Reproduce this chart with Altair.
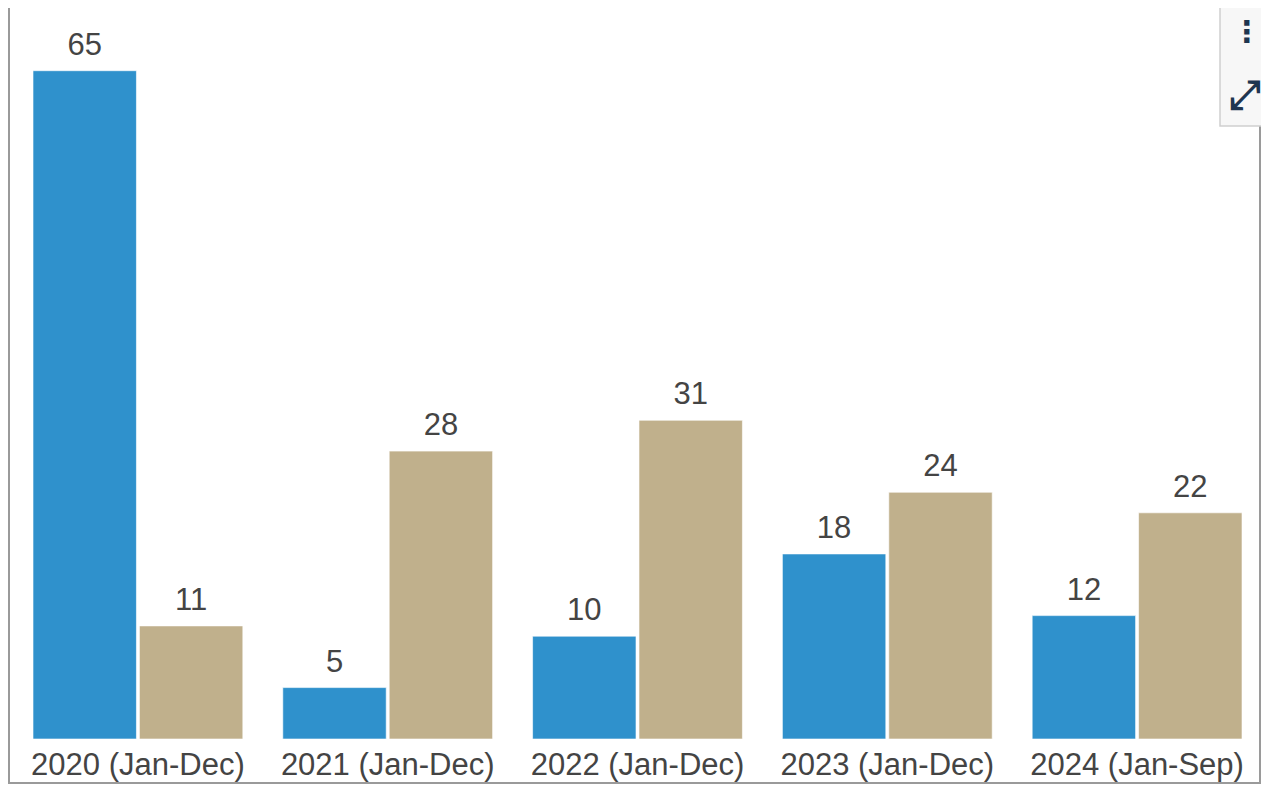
import altair as alt
import pandas as pd

categories = ["2020 (Jan-Dec)", "2021 (Jan-Dec)", "2022 (Jan-Dec)", "2023 (Jan-Dec)", "2024 (Jan-Sep)"]
series_names = ["Series 1", "Series 2"]
series1 = [65, 5, 10, 18, 12]
series2 = [11, 28, 31, 24, 22]
colors = ["#2F91CC", "#C0B08C"]

rows = []
for c, a, b in zip(categories, series1, series2):
    rows.append({"category": c, "series": series_names[0], "value": a})
    rows.append({"category": c, "series": series_names[1], "value": b})
df = pd.DataFrame(rows)

W = 1251
H = 731
BOTTOM_PAD = 45
FONT = "Liberation Sans"

x_enc = alt.X("category:N", sort=categories, title=None,
              scale=alt.Scale(range=[25, 1234], paddingInner=0.16, paddingOuter=0),
              axis=alt.Axis(labelAngle=0, labelFontSize=31, labelFont=FONT, labelColor="#444444",
                            labelBaseline="alphabetic", labelPadding=35, labelLimit=0,
                            ticks=False, tickSize=0, domain=False, grid=False))
xoff = alt.XOffset("series:N", sort=series_names, scale=alt.Scale(paddingInner=0.028, paddingOuter=0))
y_enc = alt.Y("value:Q", scale=alt.Scale(domain=[0, 71.1], nice=False, zero=True), axis=None)

bars = alt.Chart(df).mark_bar(stroke="white", strokeWidth=1, strokeOpacity=0.6).encode(
    x=x_enc, xOffset=xoff, y=y_enc,
    color=alt.Color("series:N", sort=series_names,
                    scale=alt.Scale(domain=series_names, range=colors), legend=None),
)

labels = alt.Chart(df).mark_text(font=FONT, fontSize=31, color="#444444", baseline="alphabetic", dy=-16).encode(
    x=x_enc, xOffset=xoff, y=y_enc, text=alt.Text("value:Q"),
)

frame_df = pd.DataFrame({"k": [0]})
fb = H + BOTTOM_PAD - 1
frame = alt.Chart(frame_df).mark_rect(fill="transparent", stroke="#9a9a9a", strokeWidth=2).encode(
    x=alt.value(1), x2=alt.value(W + 1), y=alt.value(-20), y2=alt.value(fb))

# small toolbar box at top right
box = alt.Chart(frame_df).mark_rect(fill="#f7f7f7", stroke="#cfcfcf", strokeWidth=1.5).encode(
    x=alt.value(1212), x2=alt.value(W + 10), y=alt.value(-10), y2=alt.value(118))
dots = alt.Chart(frame_df).mark_text(text="⋮", font="DejaVu Sans", fontSize=30, color="#1f3550",
                                     fontWeight="bold", baseline="middle").encode(
    x=alt.value(1239), y=alt.value(25))
arrow = alt.Chart(frame_df).mark_text(text="⤢", font="DejaVu Sans", fontSize=40, color="#1f3550",
                                      fontWeight="bold").encode(x=alt.value(1237), y=alt.value(88))

chart = alt.layer(bars, labels, frame, box, dots, arrow).properties(
    width=W, height=H,
    autosize=alt.AutoSizeParams(type="none"),
    padding={"left": 0, "top": 0, "right": 2, "bottom": BOTTOM_PAD},
    view=alt.ViewBackground(stroke="transparent", strokeWidth=0),
).configure_view(stroke="transparent", strokeWidth=0).configure_axis(domain=False, grid=False).configure(background="white")

chart.save("out.html", embed_options={"renderer": "svg", "actions": False})
